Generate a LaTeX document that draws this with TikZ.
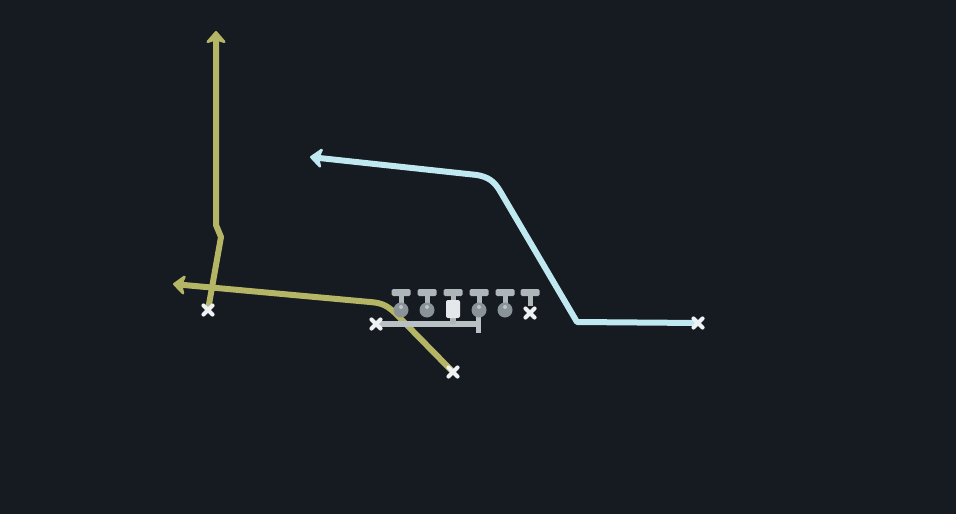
\documentclass[tikz,border=0pt]{standalone}
\usetikzlibrary{arrows.meta}
\definecolor{bg}{HTML}{161A21}
\definecolor{ylw}{HTML}{B5B566}
\definecolor{blu}{HTML}{BFE8F0}
\definecolor{tbar}{HTML}{AEB6BA}
\definecolor{circ}{HTML}{8A9397}
\definecolor{ctr}{HTML}{E4E8EA}
\definecolor{xcol}{HTML}{EEF2F4}
\begin{document}
\begin{tikzpicture}[x=1pt,y=-1pt,
  route/.style={line width=6pt,line join=round,line cap=round,
    -{Stealth[length=14pt,width=24pt,inset=4pt,round]}},
  xmark/.pic={\draw[xcol,line width=4.2pt,line cap=round] (-4.5,-4.5)--(4.5,4.5) (-4.5,4.5)--(4.5,-4.5);},
  blocker/.pic={
    \draw[tbar,line width=5pt] (0,-17)--(0,-4);
    \fill[tbar,rounded corners=1.5pt] (-9.5,-21) rectangle (9.5,-14);
    \fill[circ] (0,0) circle (7.5pt);
    \fill[tbar!80!white] (0,-3) circle (2pt);}
]
\fill[bg] (0,0) rectangle (956,514);
\useasboundingbox (0,0) rectangle (956,514);

% players
\coordinate (wr) at (208,310);
\coordinate (rb) at (376,324);
\coordinate (sl) at (453,372);
\coordinate (te) at (698,323);
\coordinate (bt) at (478,324);

% routes
\draw[route,ylw] (wr) -- (221,237) -- (216,225) -- (216,31);
\draw[route,ylw] (sl) -- (400,318) .. controls (388,305) and (382,303) .. (370,302) -- (173,284);
\draw[route,blu] (te) -- (577,322) -- (500,191) .. controls (494,181) and (488,177) .. (477,175) -- (310,157);

% motion / backfield line
\draw[tbar!85!white,line width=6pt] (rb) -- (bt);
\draw[tbar!85!white,line width=5pt] (bt) ++(0,-8) -- ++(0,17);

% line
\pic at (401,310) {blocker};
\pic at (427,310) {blocker};
\draw[tbar,line width=6pt] (453,316) -- (453,324);
\draw[tbar,line width=5pt] (453,293) -- (453,300);
\fill[tbar,rounded corners=1.5pt] (443.5,289) rectangle (462.5,296);
\fill[ctr,rounded corners=2pt] (446,300) rectangle (460,318);
\pic at (479,310) {blocker};
\pic at (505,310) {blocker};
\draw[tbar,line width=5pt] (530,293) -- (530,306);
\fill[tbar,rounded corners=1.5pt] (520.5,289) rectangle (539.5,296);
\pic at (530,313) {xmark};

\pic at (wr) {xmark};
\pic at (rb) {xmark};
\pic at (sl) {xmark};
\pic at (te) {xmark};
\end{tikzpicture}
\end{document}
